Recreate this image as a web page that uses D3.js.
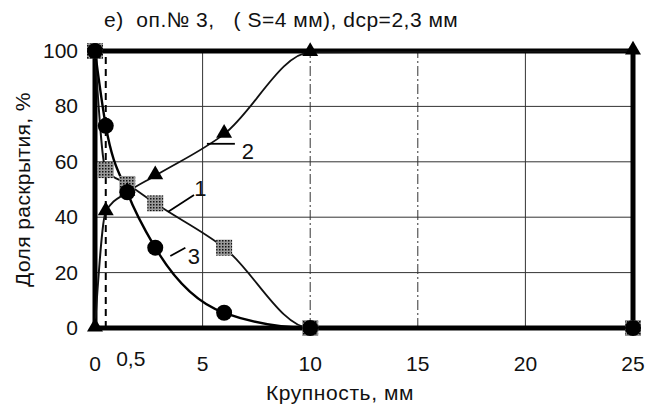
<!DOCTYPE html>
<html>
<head>
<meta charset="utf-8">
<script src="https://cdnjs.cloudflare.com/ajax/libs/d3/7.8.5/d3.min.js"></script>
<style>
	body { margin: 0; background: #fff; }
	text { font-family: 'Liberation Sans', Arial, sans-serif; fill: #111; }
</style>
</head>
<body>
<div id="chart"></div>
<script>
// values
var sizes = [0, 0.5, 1.5, 2.8, 6, 10, 25];
var series1 = [100, 57, 52, 45, 29, 0, 0];
var series2 = [0, 42, 49, 55, 70, 99.5, 100];
var series3 = [100, 73, 49, 29, 5.5, 0, 0];
var xTicks = [0, 5, 10, 15, 20, 25];
var yTicks = [0, 20, 40, 60, 80, 100];
var dcp = 0.5;

var width = 657, height = 412;
var margin = { top: 51, right: 24, bottom: 84, left: 95 };

var svg = d3.select('#chart').append('svg')
	.attr('width', width)
	.attr('height', height);

var defs = svg.append('defs');
var pat = defs.append('pattern')
	.attr('id', 'hatch')
	.attr('patternUnits', 'userSpaceOnUse')
	.attr('width', 3).attr('height', 3);
pat.append('rect').attr('width', 3).attr('height', 3).attr('fill', '#999');
pat.append('rect').attr('width', 1.5).attr('height', 1.5).attr('fill', '#111');

var x = d3.scaleLinear().domain([0, 25]).range([margin.left, width - margin.right]);
var y = d3.scaleLinear().domain([0, 100]).range([height - margin.bottom, margin.top]);

// grid
svg.append('g').selectAll('line')
	.data(yTicks.slice(1, -1))
	.enter().append('line')
	.attr('x1', x(0)).attr('x2', x(25))
	.attr('y1', function(d) { return y(d); })
	.attr('y2', function(d) { return y(d); })
	.attr('stroke', '#333').attr('stroke-width', 1);

svg.append('g').selectAll('line')
	.data(xTicks.slice(1, -1))
	.enter().append('line')
	.attr('y1', y(0)).attr('y2', y(100))
	.attr('x1', function(d) { return x(d); })
	.attr('x2', function(d) { return x(d); })
	.attr('stroke', '#333').attr('stroke-width', 1)
	.attr('stroke-dasharray', function(d) { return d === 10 || d === 15 ? '10,3,2,3' : null; });

// dashed line at 0,5
svg.append('line')
	.attr('x1', x(dcp)).attr('x2', x(dcp))
	.attr('y1', y(0)).attr('y2', y(100))
	.attr('stroke', '#000').attr('stroke-width', 2)
	.attr('stroke-dasharray', '7,5');

// frame
svg.append('rect')
	.attr('x', x(0)).attr('y', y(100))
	.attr('width', x(25) - x(0)).attr('height', y(0) - y(100))
	.attr('fill', 'none').attr('stroke', '#000').attr('stroke-width', 5);

// tick labels
svg.append('g').selectAll('text')
	.data(yTicks)
	.enter().append('text')
	.attr('x', x(0) - 17)
	.attr('y', function(d) { return y(d) + 7; })
	.attr('text-anchor', 'end')
	.attr('font-size', 21)
	.text(function(d) { return d; });

svg.append('g').selectAll('text')
	.data(xTicks)
	.enter().append('text')
	.attr('x', function(d) { return x(d); })
	.attr('y', y(0) + 43)
	.attr('text-anchor', 'middle')
	.attr('font-size', 21)
	.text(function(d) { return d; });

svg.append('text')
	.attr('x', x(dcp) + 25)
	.attr('y', y(0) + 38)
	.attr('text-anchor', 'middle')
	.attr('font-size', 21)
	.text('0,5');

// axis titles
svg.append('text')
	.attr('x', 340)
	.attr('y', height - 12)
	.attr('text-anchor', 'middle')
	.attr('font-size', 21)
	.attr('letter-spacing', 0.6)
	.text('Крупность, мм');

svg.append('text')
	.attr('transform', 'translate(30,' + ((y(0) + y(100)) / 2) + ') rotate(-90)')
	.attr('text-anchor', 'middle')
	.attr('font-size', 21)
	.attr('letter-spacing', 0.4)
	.text('Доля раскрытия, %');

svg.append('text')
	.attr('x', 104)
	.attr('y', 27)
	.attr('font-size', 21)
	.attr('letter-spacing', 0.5)
	.style('white-space', 'pre')
	.text('е)  оп.№ 3,   ( S=4 мм), dср=2,3 мм');

// curves
var line = d3.line()
	.x(function(d) { return x(d[0]); })
	.y(function(d) { return y(d[1]); })
	.curve(d3.curveMonotoneX);

function pts(vals) { return sizes.map(function(s, i) { return [s, vals[i]]; }); }

svg.append('path').datum(pts(series1))
	.attr('d', line).attr('fill', 'none')
	.attr('stroke', '#111').attr('stroke-width', 1.8);
svg.append('path').datum(pts(series2))
	.attr('d', line).attr('fill', 'none')
	.attr('stroke', '#111').attr('stroke-width', 1.8);
svg.append('path').datum(pts(series3))
	.attr('d', line).attr('fill', 'none')
	.attr('stroke', '#000').attr('stroke-width', 2.4);

// markers
svg.append('g').selectAll('rect')
	.data(pts(series1))
	.enter().append('rect')
	.attr('x', function(d) { return x(d[0]) - 8; })
	.attr('y', function(d) { return y(d[1]) - 8; })
	.attr('width', 16).attr('height', 16)
	.attr('fill', 'url(#hatch)');

svg.append('g').selectAll('path')
	.data(pts(series2))
	.enter().append('path')
	.attr('d', d3.symbol().type(d3.symbolTriangle).size(110))
	.attr('transform', function(d) { return 'translate(' + x(d[0]) + ',' + (y(d[1]) - 1) + ')'; })
	.attr('fill', '#000');

svg.append('g').selectAll('circle')
	.data(pts(series3))
	.enter().append('circle')
	.attr('cx', function(d) { return x(d[0]); })
	.attr('cy', function(d) { return y(d[1]); })
	.attr('r', 8)
	.attr('fill', '#000');

// curve labels with leaders
var labels = [
	{ name: '1', from: [3.4, 42], to: [4.6, 48], at: [4.9, 47.5] },
	{ name: '2', from: [5.2, 66.5], to: [6.5, 66.5], at: [7.1, 61] },
	{ name: '3', from: [3.5, 26], to: [4.2, 29], at: [4.6, 23] }
];

svg.append('g').selectAll('line')
	.data(labels)
	.enter().append('line')
	.attr('x1', function(d) { return x(d.from[0]); })
	.attr('y1', function(d) { return y(d.from[1]); })
	.attr('x2', function(d) { return x(d.to[0]); })
	.attr('y2', function(d) { return y(d.to[1]); })
	.attr('stroke', '#000').attr('stroke-width', 1.8);

svg.append('g').selectAll('text')
	.data(labels)
	.enter().append('text')
	.attr('x', function(d) { return x(d.at[0]); })
	.attr('y', function(d) { return y(d.at[1]); })
	.attr('text-anchor', 'middle')
	.attr('font-size', 22)
	.text(function(d) { return d.name; });
</script>
</body>
</html>
